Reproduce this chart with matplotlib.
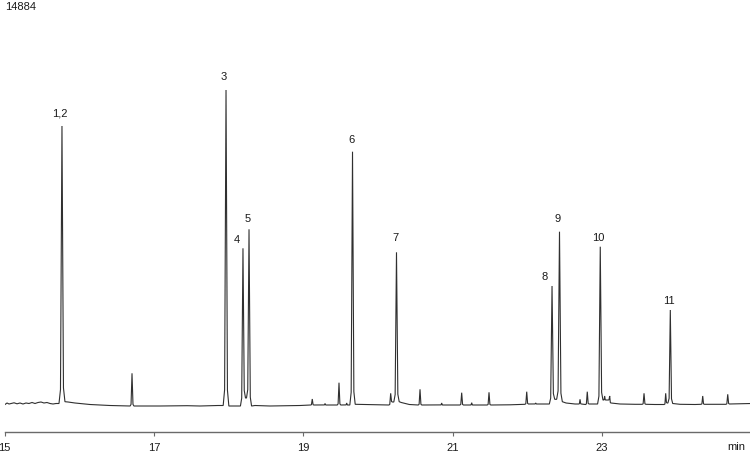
import matplotlib
matplotlib.use("Agg")
import matplotlib.pyplot as plt

plt.rcParams['font.family'] = ['Liberation Sans', 'DejaVu Sans']

# ---------------- data ----------------
# retention time (min), apex signal, baseline at left / right foot, half base width (min)
peak_times = [15.767, 16.705, 17.964, 18.191, 18.272, 19.119, 19.290, 19.477, 19.580,
              19.658, 20.169, 20.247, 20.562, 20.852, 21.120, 21.254, 21.486, 21.991,
              22.111, 22.330, 22.430, 22.705, 22.802, 22.976, 23.035, 23.102, 23.562,
              23.852, 23.914, 24.348, 24.683]
peak_heights = [11160, 1268, 12600, 6268, 7028, 240, 60, 892, 80,
                10132, 468, 6108, 628, 80, 492, 92, 508, 532,
                80, 4760, 6932, 228, 532, 6332, 360, 360, 468,
                468, 3800, 360, 428]
peak_base_left = [60, -40, -20, -40, 280, 0, 0, 0, 0,
                  0, 0, 120, 0, 0, 0, 0, 0, 28,
                  40, 40, 228, 40, 20, 40, 200, 200, 28,
                  20, 80, 28, 28]
peak_base_right = [132, -40, -40, 280, -40, 0, 0, 0, 0,
                   28, 120, 132, 0, 0, 0, 0, 0, 40,
                   40, 228, 132, 40, 40, 200, 200, 80, 28,
                   80, 60, 28, 40]
peak_halfwidth = [0.040, 0.026, 0.038, 0.034, 0.034, 0.022, 0.016, 0.024, 0.016,
                  0.036, 0.024, 0.036, 0.024, 0.016, 0.024, 0.016, 0.024, 0.024,
                  0.016, 0.036, 0.038, 0.018, 0.024, 0.036, 0.015, 0.018, 0.024,
                  0.02, 0.032, 0.022, 0.024]

# baseline / noise vertices between peaks
baseline_times = [15.004, 15.031, 15.058, 15.084, 15.125, 15.165, 15.205, 15.245, 15.285,
                  15.325, 15.366, 15.406, 15.446, 15.486, 15.526, 15.566, 15.607, 15.647,
                  15.687, 15.848, 15.941, 16.142, 16.410, 16.651, 17.082, 17.444, 17.615,
                  17.856, 18.045, 18.112, 18.352, 18.553, 18.955, 19.824, 20.092, 20.311,
                  20.419, 21.768, 22.257, 22.518, 22.638, 23.240, 23.441, 23.709, 24.044,
                  24.245, 24.513, 25.0]
baseline_values = [20, 80, 40, 60, 88, 48, 80, 40, 80,
                   60, 100, 60, 100, 120, 80, 100, 60, 40,
                   60, 120, 80, 20, -20, -40, -40, -28, -40,
                   -20, -40, -40, -20, -40, -20, 20, 0, 100,
                   20, 8, 40, 80, 40, 40, 28, 20, 28,
                   20, 28, 60]

# peak labels: text and index of the peak they belong to
label_texts = ["1,2", "3", "4", "5", "6", "7", "8", "9", "10", "11"]
label_peak = [0, 2, 3, 4, 9, 11, 19, 20, 23, 28]

x_ticks = [15, 17, 19, 21, 23]
full_scale_text = "14884"

# ---------------- style ----------------
label_offsets_px = [(-2, 12), (-2, 13), (-6, 8), (-1, 10), (-1, 12),
                    (-1, 14), (-7, 9), (-2, 12.5), (-2, 8.5), (-1, 9.5)]
SHOULDER_X = 0.5
SHOULDER_Y = 0.05

# ---------------- build trace vertices ----------------
verts = list(zip(baseline_times, baseline_values))
for t, h, bl, br, hw in zip(peak_times, peak_heights, peak_base_left,
                            peak_base_right, peak_halfwidth):
    verts += [(t - hw, bl),
              (t - SHOULDER_X * hw, bl + SHOULDER_Y * (h - bl)),
              (t, h),
              (t + SHOULDER_X * hw, br + SHOULDER_Y * (h - br)),
              (t + hw, br)]
verts.sort(key=lambda p: p[0])
tx = [p[0] for p in verts]
ty = [p[1] for p in verts]

# ---------------- figure ----------------
W, H = 750, 454
fig = plt.figure(figsize=(W / 100, H / 100), dpi=100)
ax_left_px, ax_right_px = 4.7, 751.4
ax_top_px, ax_bottom_px = 33, 432
ax = fig.add_axes([ax_left_px / W, (H - ax_bottom_px) / H,
                   (ax_right_px - ax_left_px) / W, (ax_bottom_px - ax_top_px) / H])
ax.set_xlim(15, 25)
ax.set_ylim(-1080, 14880)

ax.plot(tx, ty, color='#303030', lw=0.8, solid_joinstyle='miter')

for txt, idx, (dx, dy) in zip(label_texts, label_peak, label_offsets_px):
    ax.annotate(txt, xy=(peak_times[idx], peak_heights[idx]),
                xytext=(dx, dy), textcoords='offset pixels',
                ha='center', va='center', fontsize=8, color='#1a1a1a')

for s in ['top', 'left', 'right']:
    ax.spines[s].set_visible(False)
ax.spines['bottom'].set_color('#6a6a6a')
ax.spines['bottom'].set_linewidth(1.0)
ax.set_yticks([])
ax.set_xticks(x_ticks)
ax.set_xticklabels([str(v) for v in x_ticks])
ax.tick_params(axis='x', direction='out', length=3, width=0.8, color='#6a6a6a',
               labelsize=8, labelcolor='#1a1a1a', pad=5)

fig.text(745 / W, 1 - 447 / H, "min", ha='right', va='center', fontsize=8, color='#1a1a1a')
fig.text(5 / W, 1 - 7 / H, full_scale_text, ha='left', va='center', fontsize=8, color='#1a1a1a')

fig.savefig("out.png", dpi=100)
